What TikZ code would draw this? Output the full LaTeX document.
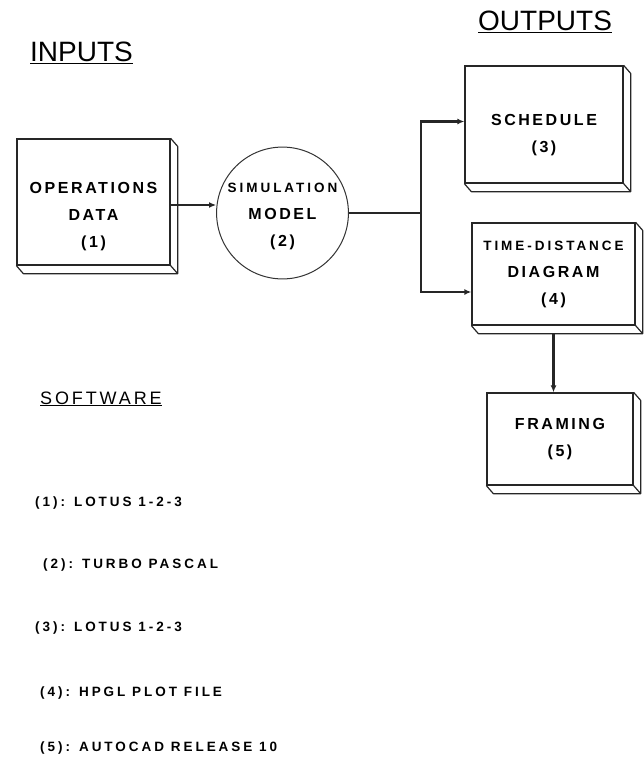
\documentclass[tikz,border=0pt]{standalone}
\usepackage{fontspec}
\setmainfont{Liberation Sans}
\newfontfamily\boxfont{Liberation Sans}[LetterSpace=16]
\newfontfamily\thinfont{Liberation Sans}[LetterSpace=22]
\newfontfamily\headfont{Liberation Sans}[LetterSpace=16]
\usetikzlibrary{arrows.meta, positioning, calc}
\newcommand{\lesser}{\thinfont\bfseries\fontsize{13.5}{27}\selectfont}
\newcommand{\dropby}[1]{\rule{0pt}{#1}}
\tikzset{
  panel/.style={rectangle, draw=black!85, line width=1.3pt, inner sep=0pt,
                align=center, font=\boxfont\bfseries\fontsize{16}{27}\selectfont},
  model/.style={circle, draw=black!80, line width=1pt, inner sep=0pt,
                minimum size=129pt, align=center,
                font=\boxfont\bfseries\fontsize{16}{27}\selectfont},
  edge/.style={draw=black!85, line width=1.2pt, line join=round},
  arrow/.style={-{Latex[length=7pt,width=6pt]}, draw=black!85, line width=2.6pt},
  heading/.style={font=\fontsize{28}{32}\selectfont, inner sep=0pt, anchor=base west},
  subhead/.style={font=\headfont\fontsize{18}{20}\selectfont, inner sep=0pt, anchor=base west},
  swline/.style={font=\thinfont\bfseries\fontsize{13.5}{15}\selectfont, inner sep=0pt, anchor=base west},
}
% extruded edge below and right of a panel
\newcommand{\bevel}[1]{%
  \draw[edge] (#1.north east) -- ++(7,8) -- ($(#1.south east)+(7,8)$)
    -- ($(#1.south west)+(7,8)$) -- (#1.south west);
  \draw[edge] (#1.south east) -- ++(7,8);}

\begin{document}
\begin{tikzpicture}[x=1pt, y=-1pt]
  \useasboundingbox (0,0) rectangle (644,760);

  % Headings
  \node[heading] (inputs) at (30,62) {\underline{INPUTS}};
  \node[heading] (outputs) at (478,31) {\underline{OUTPUTS}};

  % Input and model
  \node[panel, minimum width=153pt, minimum height=126pt] (ops) at (93.5,202)
    {\dropby{41pt}OPERATIONS\\DATA\\(1)};
  \node[model] (sim) at (282.5,213) {\dropby{16pt}{\lesser SIMULATION}\\MODEL\\(2)};

  % Outputs
  \node[panel, minimum width=158pt, minimum height=117pt] (sched) at (544,124.5)
    {\dropby{33pt}SCHEDULE\\(3)};
  \node[panel, minimum width=163pt, minimum height=102pt] (td) at (553.5,274)
    {{\lesser TIME-DISTANCE}\\DIAGRAM\\(4)};
  \node[panel, minimum width=146pt, minimum height=92pt] (fram) at (560,439)
    {FRAMING\\(5)};
  \bevel{ops}
  \bevel{sched}
  \bevel{td}
  \bevel{fram}

  % Edges
  \coordinate (split) at (421,213);
  \draw[arrow] ([yshift=-3pt]ops.east) -- ([yshift=-3pt]ops.east -| sim.west);
  \draw[arrow] (sim.east) -- (split) |- ([yshift=3pt]sched.west);
  \draw[arrow] (split) |- ([yshift=-18pt]td.west);
  \draw[arrow] ([yshift=-8pt]td.south) -- (td.south |- fram.north);

  % Software list
  \node[subhead] (soft) at (40,404) {\underline{SOFTWARE}};
  \node[swline] (sw1) at (35,506) {(1): LOTUS 1-2-3};
  \node[swline] (sw2) at (43,568) {(2): TURBO PASCAL};
  \node[swline] (sw3) at (35,631) {(3): LOTUS 1-2-3};
  \node[swline] (sw4) at (40,696) {(4): HPGL PLOT FILE};
  \node[swline] (sw5) at (40,751) {(5): AUTOCAD RELEASE 10};
\end{tikzpicture}
\end{document}
